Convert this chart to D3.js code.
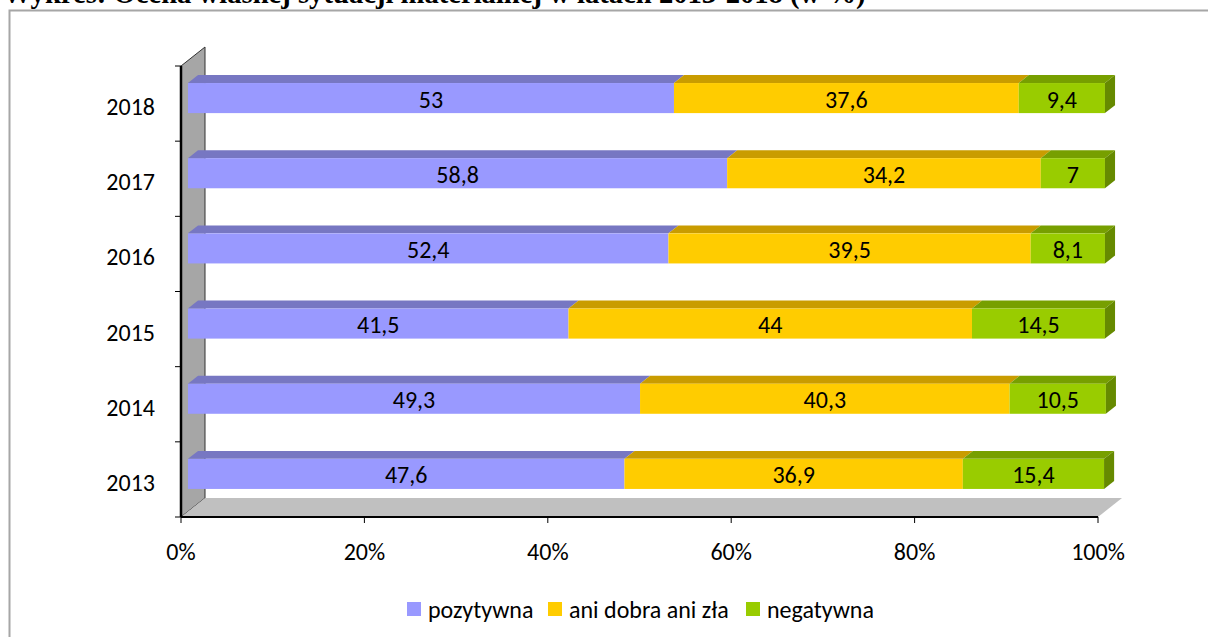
<!DOCTYPE html>
<html>
<head>
<meta charset="utf-8">
<script src="https://cdn.jsdelivr.net/npm/d3@7"></script>
<style>
  body { margin: 0; background: #fff; }
  svg { display: block; }
  .lbl { font-family: Carlito, Calibri, Lato, sans-serif; font-size: 24px; fill: #000; }
</style>
</head>
<body>
<div id="chart"></div>
<script>
// Chart data
var years = ["2013", "2014", "2015", "2016", "2017", "2018"];
var seriesNames = ["pozytywna", "ani dobra ani zła", "negatywna"];
var pozytywna = [47.6, 49.3, 41.5, 52.4, 58.8, 53];
var aniDobra = [36.9, 40.3, 44, 39.5, 34.2, 37.6];
var negatywna = [15.4, 10.5, 14.5, 8.1, 7, 9.4];
var xTicks = [0, 20, 40, 60, 80, 100];

var svgWidth = 1208, svgHeight = 637;

var svg = d3.select("#chart")
    .append("svg")
    .attr("width", svgWidth)
    .attr("height", svgHeight);

// frame around the chart (cut off on right and bottom)
svg.append("rect")
    .attr("x", 9.5).attr("y", 10.5)
    .attr("width", 1300).attr("height", 700)
    .attr("fill", "none")
    .attr("stroke", "#a6a6a6")
    .attr("stroke-width", 2);

// title, cut at the top
var title = svg.append("text")
    .attr("x", 3)
    .attr("y", 3)
    .attr("font-family", "'Liberation Serif', 'Times New Roman', serif")
    .attr("font-weight", "bold")
    .attr("font-size", 26)
    .text("Wykres: Ocena własnej sytuacji materialnej w latach 2013-2018 (w %)");
// fit the title to the width seen in the reference
var tw = title.node().getComputedTextLength();
title.attr("font-size", 26 * 863 / tw);

// plot area (front plane)
var plotLeft = 181, plotRight = 1098, plotTop = 66, plotBottom = 517;
var depth = [24, -19];          // full depth of the 3D box
var f1 = 0.29, f2 = 0.71;        // bar front/back within depth
var d1 = [depth[0] * f1, depth[1] * f1];
var d2 = [depth[0] * f2, depth[1] * f2];

var x = d3.scaleLinear().domain([0, 100]).range([plotLeft, plotRight]);
var y = d3.scaleBand()
    .domain(years.slice().reverse())
    .range([plotTop, plotBottom])
    .paddingInner(0.6)
    .paddingOuter(0.3);

// stack the data
var rows = years.map(function(yr, i) {
    return { year: yr, "pozytywna": pozytywna[i], "ani dobra ani zła": aniDobra[i], "negatywna": negatywna[i] };
});
var stacked = d3.stack().keys(seriesNames)(rows);

var front = { "pozytywna": "#9999ff", "ani dobra ani zła": "#ffcc00", "negatywna": "#99cc00" };
var topCol = { "pozytywna": "#7777c2", "ani dobra ani zła": "#c99c00", "negatywna": "#779f00" };
var sideCol = { "pozytywna": "#6666aa", "ani dobra ani zła": "#b08800", "negatywna": "#668a00" };

function pts(arr) { return arr.map(function(p) { return p.join(","); }).join(" "); }

// back wall
svg.append("polygon")
    .attr("points", pts([[plotLeft, plotTop], [plotLeft + depth[0], plotTop + depth[1]],
                         [plotLeft + depth[0], plotBottom + depth[1]], [plotLeft, plotBottom]]))
    .attr("fill", "#a6a6a6")
    .attr("stroke", "#333")
    .attr("stroke-width", 1);

// floor
svg.append("polygon")
    .attr("points", pts([[plotLeft, plotBottom], [plotLeft + depth[0], plotBottom + depth[1]],
                         [plotRight + depth[0], plotBottom + depth[1]], [plotRight, plotBottom]]))
    .attr("fill", "#c0c0c0");

// bars
var barG = svg.append("g");
stacked.forEach(function(layer, li) {
    var key = layer.key;
    layer.forEach(function(d) {
        var yr = d.data.year;
        var x0 = x(d[0]), x1 = x(d[1]);
        var yt = y(yr), yb = y(yr) + y.bandwidth();
        // top face
        barG.append("polygon")
            .attr("points", pts([[x0 + d1[0], yt + d1[1]], [x1 + d1[0], yt + d1[1]],
                                 [x1 + d2[0], yt + d2[1]], [x0 + d2[0], yt + d2[1]]]))
            .attr("fill", topCol[key]);
        // front face
        barG.append("rect")
            .attr("x", x0 + d1[0])
            .attr("y", yt + d1[1])
            .attr("width", x1 - x0)
            .attr("height", y.bandwidth())
            .attr("fill", front[key]);
        // right side for last segment
        if (li === stacked.length - 1) {
            barG.append("polygon")
                .attr("points", pts([[x1 + d1[0], yt + d1[1]], [x1 + d2[0], yt + d2[1]],
                                     [x1 + d2[0], yb + d2[1]], [x1 + d1[0], yb + d1[1]]]))
                .attr("fill", sideCol[key]);
        }
        // value label
        barG.append("text")
            .attr("class", "lbl")
            .attr("x", (x0 + x1) / 2 + d1[0])
            .attr("y", yt + d1[1] + y.bandwidth() / 2 + 1)
            .attr("text-anchor", "middle")
            .attr("dominant-baseline", "central")
            .text(String(d.data[key]).replace(".", ","));
    });
});

// left axis
var yAxis = svg.append("g");
yAxis.append("line")
    .attr("x1", plotLeft).attr("x2", plotLeft)
    .attr("y1", plotTop).attr("y2", plotBottom)
    .attr("stroke", "#000").attr("stroke-width", 2.5);
var yTickPos = y.domain().map(function(yr) { return y(yr) - y.step() * 0.3; }).concat([plotBottom]);
yAxis.selectAll(".tk").data(yTickPos).enter().append("line")
    .attr("x1", plotLeft - 6).attr("x2", plotLeft)
    .attr("y1", function(d) { return d; }).attr("y2", function(d) { return d; })
    .attr("stroke", "#000").attr("stroke-width", 1);
yAxis.selectAll(".yl").data(years).enter().append("text")
    .attr("class", "lbl")
    .attr("x", 155)
    .attr("y", function(d) { return y(d) + y.bandwidth() / 2 + 3; })
    .attr("text-anchor", "end")
    .attr("dominant-baseline", "central")
    .text(function(d) { return d; });

// bottom axis
var xAxis = svg.append("g");
xAxis.append("line")
    .attr("x1", plotLeft).attr("x2", plotRight)
    .attr("y1", plotBottom).attr("y2", plotBottom)
    .attr("stroke", "#000").attr("stroke-width", 2);
xAxis.selectAll(".tk").data(xTicks).enter().append("line")
    .attr("x1", function(d) { return x(d); }).attr("x2", function(d) { return x(d); })
    .attr("y1", plotBottom).attr("y2", plotBottom + 6)
    .attr("stroke", "#000").attr("stroke-width", 1);
xAxis.selectAll(".xl").data(xTicks).enter().append("text")
    .attr("class", "lbl")
    .attr("x", function(d) { return x(d); })
    .attr("y", 551)
    .attr("text-anchor", "middle")
    .attr("dominant-baseline", "central")
    .text(function(d) { return d + "%"; });

// legend
var legendX = [407, 548, 746];
var legend = svg.append("g");
seriesNames.forEach(function(s, i) {
    legend.append("rect")
        .attr("x", legendX[i]).attr("y", 602)
        .attr("width", 14).attr("height", 14)
        .attr("fill", front[s]);
    legend.append("text")
        .attr("class", "lbl")
        .attr("x", legendX[i] + 21)
        .attr("y", 609)
        .attr("dominant-baseline", "central")
        .text(s);
});
</script>
</body>
</html>
